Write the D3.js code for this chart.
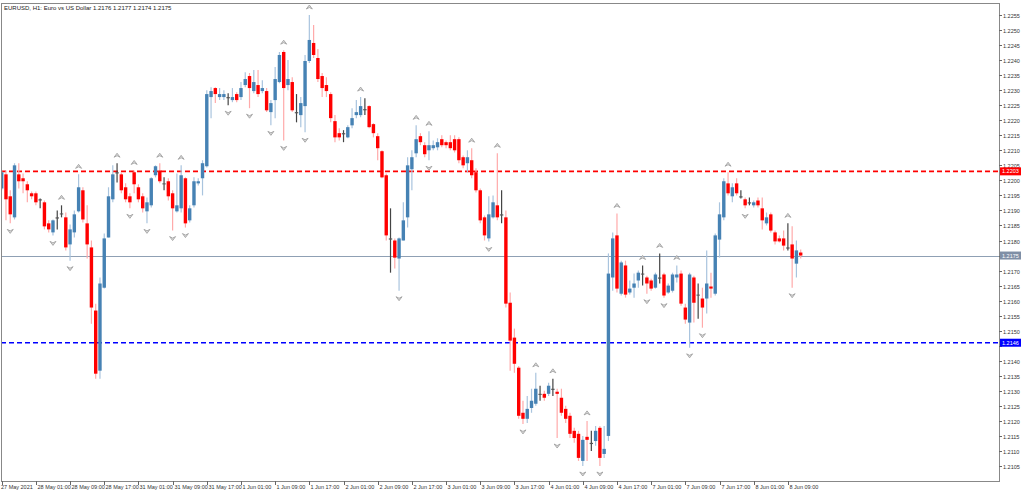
<!DOCTYPE html>
<html><head><meta charset="utf-8">
<script src="https://cdn.jsdelivr.net/npm/d3@7"></script>
<style>body{margin:0;background:#fff}svg{display:block}text{font-family:"Liberation Sans",Arial,sans-serif}</style>
</head><body><svg id="c" width="1024" height="492"></svg>
<script>
const opens=[1.21973,1.22020,1.21947,1.21877,1.22020,1.22007,1.21987,1.21957,1.21957,1.21937,1.21927,1.21857,1.21827,1.21877,1.21890,1.21877,1.21787,1.21827,1.21897,1.21967,1.21857,1.21777,1.21567,1.21367,1.21643,1.21810,1.21937,1.22027,1.22020,1.21977,1.21947,1.22027,1.21977,1.21947,1.21897,1.21917,1.22017,1.22033,1.21990,1.21997,1.21957,1.21897,1.21907,1.22007,1.21867,1.21917,1.21990,1.22007,1.22047,1.22277,1.22307,1.22277,1.22277,1.22277,1.22267,1.22287,1.22277,1.22317,1.22347,1.22297,1.22317,1.22297,1.22297,1.22227,1.22267,1.22327,1.22427,1.22317,1.22327,1.22227,1.22217,1.22247,1.22397,1.22457,1.22407,1.22347,1.22317,1.22287,1.22197,1.22157,1.22157,1.22143,1.22183,1.22217,1.22217,1.22237,1.22247,1.22187,1.22147,1.22097,1.22017,1.21807,1.21800,1.21740,1.21800,1.21877,1.22037,1.22090,1.22147,1.22117,1.22100,1.22107,1.22110,1.22137,1.22127,1.22127,1.22137,1.22137,1.22077,1.22057,1.22067,1.22027,1.21967,1.21877,1.21807,1.21877,1.21917,1.21887,1.21877,1.21593,1.21477,1.21377,1.21227,1.21207,1.21243,1.21257,1.21290,1.21290,1.21290,1.21307,1.21297,1.21277,1.21240,1.21217,1.21167,1.21157,1.21067,1.21147,1.21127,1.21133,1.21177,1.21090,1.21150,1.21677,1.21817,1.21623,1.21717,1.21627,1.21643,1.21667,1.21690,1.21677,1.21667,1.21643,1.21677,1.21687,1.21627,1.21633,1.21677,1.21690,1.21577,1.21527,1.21677,1.21620,1.21607,1.21607,1.21647,1.21623,1.21803,1.21877,1.21990,1.21947,1.21990,1.21947,1.21937,1.21927,1.21917,1.21933,1.21907,1.21857,1.21887,1.21827,1.21807,1.21807,1.21777,1.21787,1.21723,1.21760];
const highs=[1.22033,1.22033,1.21967,1.22057,1.22057,1.22023,1.21997,1.21963,1.21963,1.21940,1.21933,1.21867,1.21870,1.21900,1.21917,1.21893,1.21853,1.21900,1.22020,1.21977,1.21917,1.21800,1.21590,1.21677,1.21823,1.21977,1.22050,1.22057,1.22027,1.21990,1.21957,1.22033,1.21987,1.21957,1.21943,1.22010,1.22050,1.22057,1.22010,1.22007,1.21967,1.22023,1.22050,1.22010,1.21917,1.22010,1.22007,1.22067,1.22300,1.22310,1.22310,1.22307,1.22300,1.22290,1.22307,1.22293,1.22327,1.22360,1.22357,1.22367,1.22367,1.22333,1.22307,1.22267,1.22377,1.22427,1.22433,1.22400,1.22343,1.22287,1.22277,1.22417,1.22550,1.22517,1.22437,1.22357,1.22343,1.22293,1.22217,1.22173,1.22167,1.22183,1.22240,1.22267,1.22277,1.22273,1.22250,1.22190,1.22157,1.22100,1.22023,1.21907,1.21807,1.21810,1.21927,1.22077,1.22100,1.22183,1.22157,1.22127,1.22163,1.22133,1.22140,1.22150,1.22133,1.22150,1.22150,1.22143,1.22083,1.22100,1.22107,1.22040,1.21973,1.21883,1.21947,1.21950,1.22090,1.21967,1.21900,1.21627,1.21507,1.21383,1.21267,1.21283,1.21307,1.21360,1.21317,1.21300,1.21327,1.21340,1.21307,1.21307,1.21250,1.21227,1.21177,1.21167,1.21150,1.21200,1.21167,1.21183,1.21183,1.21183,1.21757,1.21827,1.21890,1.21733,1.21733,1.21667,1.21690,1.21700,1.21717,1.21683,1.21673,1.21693,1.21757,1.21693,1.21657,1.21693,1.21717,1.21700,1.21590,1.21693,1.21683,1.21657,1.21643,1.21767,1.21693,1.21823,1.21927,1.22007,1.22027,1.21990,1.22007,1.21967,1.21943,1.21943,1.21933,1.21943,1.21943,1.21893,1.21893,1.21833,1.21817,1.21833,1.21857,1.21847,1.21800,1.21770];
const lows=[1.21967,1.21867,1.21857,1.21870,1.21973,1.21957,1.21927,1.21937,1.21917,1.21907,1.21837,1.21827,1.21817,1.21837,1.21877,1.21767,1.21733,1.21810,1.21893,1.21860,1.21740,1.21523,1.21340,1.21340,1.21640,1.21810,1.21927,1.21993,1.21957,1.21927,1.21907,1.21957,1.21927,1.21893,1.21857,1.21910,1.22010,1.21990,1.21967,1.21933,1.21833,1.21893,1.21893,1.21843,1.21860,1.21910,1.21983,1.21950,1.22043,1.22207,1.22257,1.22267,1.22267,1.22250,1.22260,1.22260,1.22267,1.22310,1.22240,1.22290,1.22277,1.22290,1.22227,1.22183,1.22207,1.22323,1.22133,1.22300,1.22227,1.22193,1.22177,1.22160,1.22390,1.22407,1.22327,1.22277,1.22277,1.22193,1.22127,1.22133,1.22127,1.22140,1.22173,1.22207,1.22210,1.22217,1.22173,1.22143,1.22067,1.22007,1.21800,1.21693,1.21707,1.21633,1.21800,1.21843,1.21967,1.22077,1.22117,1.22077,1.22067,1.22100,1.22100,1.22110,1.22107,1.22100,1.22093,1.22057,1.22040,1.22027,1.22007,1.21960,1.21857,1.21800,1.21797,1.21873,1.21867,1.21857,1.21577,1.21367,1.21360,1.21207,1.21190,1.21193,1.21227,1.21250,1.21267,1.21267,1.21283,1.21283,1.21143,1.21217,1.21193,1.21143,1.21127,1.21067,1.21050,1.21067,1.21100,1.21117,1.21050,1.21077,1.21133,1.21633,1.21627,1.21617,1.21610,1.21620,1.21610,1.21643,1.21650,1.21623,1.21633,1.21640,1.21657,1.21610,1.21623,1.21627,1.21660,1.21583,1.21523,1.21443,1.21527,1.21540,1.21510,1.21557,1.21610,1.21617,1.21743,1.21867,1.21950,1.21927,1.21950,1.21940,1.21907,1.21917,1.21910,1.21910,1.21837,1.21850,1.21827,1.21787,1.21793,1.21767,1.21767,1.21643,1.21677,1.21740];
const closes=[1.22027,1.21937,1.21887,1.22050,1.21997,1.21997,1.21967,1.21947,1.21927,1.21933,1.21847,1.21837,1.21867,1.21873,1.21887,1.21777,1.21837,1.21887,1.21977,1.21870,1.21787,1.21577,1.21357,1.21657,1.21807,1.21947,1.22020,1.22023,1.21967,1.21937,1.21927,1.21987,1.21937,1.21907,1.21927,1.22007,1.22047,1.21997,1.21987,1.21947,1.21907,1.21917,1.22017,1.21857,1.21907,1.21997,1.21997,1.22057,1.22287,1.22297,1.22287,1.22287,1.22287,1.22273,1.22277,1.22267,1.22307,1.22337,1.22307,1.22327,1.22287,1.22307,1.22233,1.22257,1.22337,1.22417,1.22307,1.22337,1.22233,1.22223,1.22257,1.22397,1.22467,1.22417,1.22337,1.22307,1.22297,1.22207,1.22143,1.22143,1.22153,1.22177,1.22207,1.22227,1.22247,1.22233,1.22177,1.22157,1.22107,1.22010,1.21817,1.21803,1.21743,1.21807,1.21867,1.22050,1.22077,1.22137,1.22127,1.22087,1.22117,1.22117,1.22127,1.22117,1.22117,1.22107,1.22100,1.22067,1.22050,1.22077,1.22017,1.21967,1.21867,1.21817,1.21887,1.21927,1.21877,1.21883,1.21590,1.21467,1.21390,1.21217,1.21207,1.21240,1.21267,1.21307,1.21287,1.21277,1.21317,1.21303,1.21290,1.21227,1.21207,1.21157,1.21143,1.21077,1.21137,1.21137,1.21123,1.21167,1.21077,1.21107,1.21690,1.21807,1.21640,1.21727,1.21620,1.21640,1.21657,1.21693,1.21687,1.21657,1.21640,1.21687,1.21673,1.21617,1.21650,1.21687,1.21687,1.21590,1.21537,1.21687,1.21593,1.21617,1.21577,1.21657,1.21640,1.21817,1.21887,1.21997,1.21957,1.21977,1.21957,1.21943,1.21917,1.21923,1.21927,1.21917,1.21867,1.21877,1.21833,1.21797,1.21797,1.21783,1.21773,1.21740,1.21767,1.21750];
const timeLabels=["27 May 2021","28 May 01:00","28 May 09:00","28 May 17:00","31 May 01:00","31 May 09:00","31 May 17:00","1 Jun 01:00","1 Jun 09:00","1 Jun 17:00","2 Jun 01:00","2 Jun 09:00","2 Jun 17:00","3 Jun 01:00","3 Jun 09:00","3 Jun 17:00","4 Jun 01:00","4 Jun 09:00","4 Jun 17:00","7 Jun 01:00","7 Jun 09:00","7 Jun 17:00","8 Jun 01:00","8 Jun 09:00"];
const priceTicks=[1.2105,1.2110,1.2115,1.2120,1.2125,1.2130,1.2135,1.2140,1.2145,1.2150,1.2155,1.2160,1.2165,1.2170,1.2175,1.2180,1.2185,1.2190,1.2195,1.2200,1.2205,1.2210,1.2215,1.2220,1.2225,1.2230,1.2235,1.2240,1.2245,1.2250,1.2255];
const resistance=1.2203, support=1.2146, bid=1.2175;
const title="EURUSD, H1:  Euro vs US Dollar  1.2176 1.2177 1.2174 1.2175";

const svg=d3.select("#c");
const L=1,R=999,T=3,B=481;
const x=d3.scaleLinear().domain([0,187]).range([1.7,800.7]);
const y=d3.scaleLinear().domain([1.2105,1.2255]).range([466,15]);
svg.append("clipPath").attr("id","clp").append("rect").attr("x",L+1).attr("y",T+1).attr("width",R-L-1).attr("height",B-T-1);
const g=svg.append("g").attr("clip-path","url(#clp)");

g.append("line").attr("x1",L).attr("x2",R).attr("y1",Math.round(y(bid))+0.5).attr("y2",Math.round(y(bid))+0.5).attr("stroke","#8fa0b4").attr("stroke-width",1);
[[resistance,"#ff0000"],[support,"#0000ff"]].forEach(([v,c])=>{
 g.append("line").attr("x1",L).attr("x2",R).attr("y1",y(v)).attr("y2",y(v)).attr("stroke",c).attr("stroke-width",1.6).attr("stroke-dasharray","5,3");
});

const data=opens.map((o,i)=>({i,o,h:highs[i],l:lows[i],c:closes[i]}));
const col=d=>Math.abs(d.c-d.o)<0.00005?"#555":(d.c>d.o?"#4682b4":"#ff0000");
const wcol=d=>Math.abs(d.c-d.o)<0.00005?"#444":(d.c>d.o?"#a9c4de":"#ffaaaa");
const cg=g.append("g");
cg.selectAll("line.w").data(data).join("line").attr("x1",d=>x(d.i)).attr("x2",d=>x(d.i)).attr("y1",d=>y(d.h)).attr("y2",d=>y(d.l)).attr("stroke",wcol).attr("stroke-width",1.2);
cg.selectAll("rect.b").data(data).join("rect").attr("x",d=>x(d.i)-1.7).attr("width",3.4)
 .attr("y",d=>y(Math.max(d.o,d.c))).attr("height",d=>Math.max(1,Math.abs(y(d.o)-y(d.c)))).attr("fill",col);

const fg=g.append("g").attr("fill","#ddd").attr("stroke","#999").attr("stroke-width",0.8);
data.forEach((d,i)=>{
 if(i<2||i>data.length-3)return;
 const nb=[i-2,i-1,i+1,i+2];
 if(nb.every(j=>highs[j]<d.h)){const X=x(i),Y=y(d.h)-8;fg.append("path").attr("d",`M${X-3},${Y+2}L${X},${Y-2}L${X+3},${Y+2}L${X},${Y+0.5}Z`);}
 if(nb.every(j=>lows[j]>d.l)){const X=x(i),Y=y(d.l)+8;fg.append("path").attr("d",`M${X-3},${Y-2}L${X},${Y+2}L${X+3},${Y-2}L${X},${Y-0.5}Z`);}
});

svg.append("rect").attr("x",L+0.5).attr("y",T+0.5).attr("width",R-L).attr("height",B-T).attr("fill","none").attr("stroke","#888");

const ra=svg.append("g");
const boxes=[resistance,bid,support];
priceTicks.forEach(v=>{const Y=Math.round(y(v))+0.5;
 ra.append("line").attr("x1",R).attr("x2",R+3).attr("y1",Y).attr("y2",Y).attr("stroke","#666");
 if(boxes.some(b=>Math.abs(y(b)-y(v))<5))return;
 ra.append("text").attr("x",R+4).attr("y",Y+2).attr("font-size",5.5).attr("fill","#333").text(v.toFixed(4));});
[[resistance,"#ff0000"],[bid,"#7f8fa6"],[support,"#0000ff"]].forEach(([v,bg])=>{
 const Y=y(v);ra.append("rect").attr("x",R+1).attr("y",Y-4).attr("width",21).attr("height",8).attr("fill",bg);
 ra.append("text").attr("x",R+3).attr("y",Y+2).attr("font-size",5.5).attr("fill","#fff").text(v.toFixed(4));});

timeLabels.forEach((t,k)=>{const X=Math.round(x(k*8))+0.5;
 svg.append("line").attr("x1",X).attr("x2",X).attr("y1",B).attr("y2",B+4).attr("stroke","#666");
 svg.append("text").attr("x",k==0?L:X+1).attr("y",489).attr("font-size",5.5).attr("fill","#333").text(t);});
svg.append("text").attr("x",4).attr("y",10).attr("font-size",6).attr("fill","#222").text(title);
</script></body></html>
